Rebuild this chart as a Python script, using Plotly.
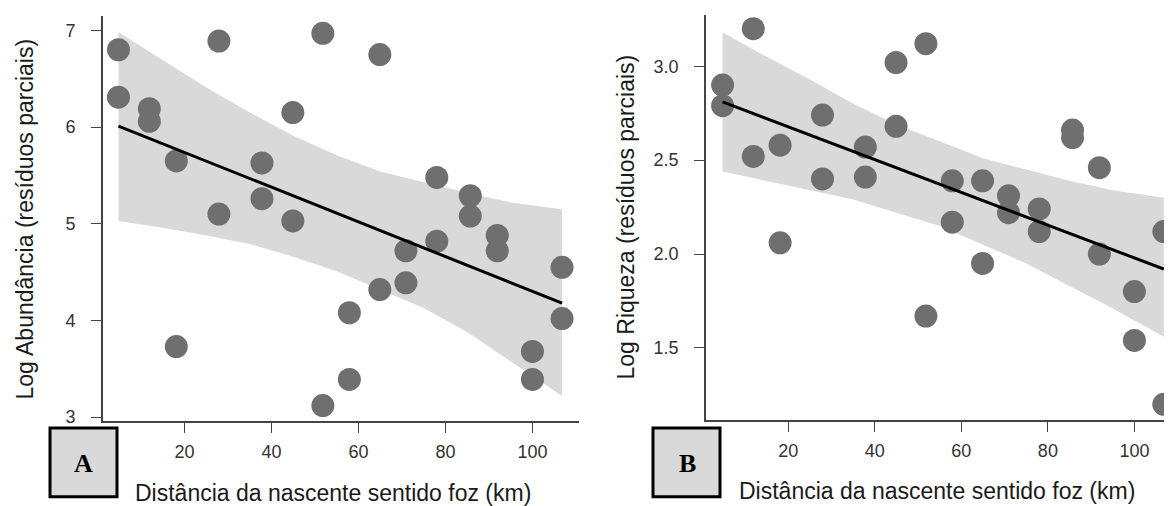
import plotly.graph_objects as go

W, H = 1172, 506

# ---- data ----
sites = [4.8, 11.9, 18.1, 27.9, 37.8, 44.9, 51.8, 57.9, 64.9, 70.9, 78.0, 85.7, 91.9, 100.0, 106.8]
dist = [x for x in sites for _ in range(2)]

log_abund = [6.80, 6.31, 6.19, 6.06, 5.65, 3.73, 6.89, 5.10, 5.63, 5.26,
             6.15, 5.03, 6.97, 3.12, 4.08, 3.39, 6.75, 4.32, 4.72, 4.39,
             5.48, 4.82, 5.29, 5.08, 4.88, 4.72, 3.68, 3.39, 4.55, 4.02]

log_riq = [2.90, 2.79, 3.20, 2.52, 2.58, 2.06, 2.74, 2.40, 2.57, 2.41,
           3.02, 2.68, 3.12, 1.67, 2.39, 2.17, 2.39, 1.95, 2.31, 2.22,
           2.24, 2.12, 2.66, 2.62, 2.46, 2.00, 1.80, 1.54, 2.12, 1.20]

fit_x = [4.8, 106.8]
fit_abund = [6.01, 4.18]
fit_riq = [2.81, 1.92]

band_x = [4.8, 15, 25, 35, 45, 55, 65, 75, 85, 95, 106.8]
abund_upper = [6.98, 6.69, 6.41, 6.15, 5.91, 5.71, 5.54, 5.43, 5.32, 5.22, 5.15]
abund_lower = [5.03, 4.96, 4.88, 4.79, 4.66, 4.51, 4.32, 4.13, 3.88, 3.58, 3.22]
riq_upper = [3.18, 3.05, 2.93, 2.80, 2.69, 2.60, 2.51, 2.45, 2.39, 2.34, 2.30]
riq_lower = [2.44, 2.39, 2.34, 2.29, 2.22, 2.15, 2.05, 1.95, 1.83, 1.71, 1.56]

x_ticks = [20, 40, 60, 80, 100]
abund_ticks = [3, 4, 5, 6, 7]
riq_ticks = [1.5, 2.0, 2.5, 3.0]

x_title = "Distância da nascente sentido foz (km)"
ya_title = "Log Abundância (resíduos parciais)"
yb_title = "Log Riqueza (resíduos parciais)"

BAND = "#d9d9d9"
PT = "#6f6f6f"
AX = "#444444"
TICKFONT = dict(family="Liberation Sans, Arial, sans-serif", size=18, color="#333333")
TITLEFONT = dict(family="Liberation Sans, Arial, sans-serif", size=23, color="#1a1a1a")
LETTERFONT = dict(family="Liberation Serif, Times New Roman, serif", size=26, color="black")


def px(x):
    return x / W


def py(y):
    return 1 - y / H


fig = go.Figure()

for xa, ya, yv, up, lo, fit in [("x", "y", log_abund, abund_upper, abund_lower, fit_abund),
                                ("x2", "y2", log_riq, riq_upper, riq_lower, fit_riq)]:
    fig.add_trace(go.Scatter(x=band_x + band_x[::-1], y=up + lo[::-1], fill="toself",
                             fillcolor=BAND, line=dict(width=0), mode="lines",
                             hoverinfo="skip", xaxis=xa, yaxis=ya, showlegend=False))
    fig.add_trace(go.Scatter(x=dist, y=yv, mode="markers", cliponaxis=False,
                             marker=dict(size=23, color=PT, line=dict(width=0)),
                             xaxis=xa, yaxis=ya, showlegend=False))
    fig.add_trace(go.Scatter(x=fit_x, y=fit, mode="lines", line=dict(color="black", width=3),
                             xaxis=xa, yaxis=ya, showlegend=False))

common_x = dict(tickvals=x_ticks, ticks="outside", ticklen=10, tickwidth=1.3, tickcolor=AX,
                showline=True, linecolor=AX, linewidth=1.5, showgrid=False, zeroline=False,
                tickfont=TICKFONT, ticklabelstandoff=4)
common_y = dict(ticks="outside", ticklen=10, tickwidth=1.3, tickcolor=AX,
                showline=True, linecolor=AX, linewidth=1.5, showgrid=False, zeroline=False,
                tickfont=TICKFONT, ticklabelstandoff=12)

fig.update_layout(
    width=W, height=H, margin=dict(l=0, r=0, t=0, b=0),
    paper_bgcolor="white", plot_bgcolor="white",
    xaxis=dict(domain=[px(94.8), px(571)], range=[1.2, 110.7], anchor="y", **common_x),
    yaxis=dict(domain=[py(418), py(8.3)], range=[2.96, 7.147], anchor="x",
               tickvals=abund_ticks, **common_y),
    xaxis2=dict(domain=[px(697.8), 1.0], range=[0.92, 110.54], anchor="y2", **common_x),
    yaxis2=dict(domain=[py(417), py(6.7)], range=[1.116, 3.275], anchor="x2",
                tickvals=riq_ticks, tickformat=".1f", **common_y),
)

annotations = [
    dict(text=x_title, x=px(325), y=py(491), font=TITLEFONT),
    dict(text=x_title, x=px(929), y=py(489), font=TITLEFONT),
    dict(text=ya_title, x=px(17), y=py(214), textangle=-90, font=TITLEFONT),
    dict(text=yb_title, x=px(618), y=py(212), textangle=-90, font=TITLEFONT),
    dict(text="<b>A</b>", x=px(76), y=py(461), font=LETTERFONT),
    dict(text="<b>B</b>", x=px(679), y=py(461), font=LETTERFONT),
]
for a in annotations:
    a.update(xref="paper", yref="paper", showarrow=False, xanchor="center", yanchor="middle")
fig.update_layout(annotations=annotations)

for x0, x1 in [(42, 109), (645, 712)]:
    fig.add_shape(type="rect", xref="paper", yref="paper",
                  x0=px(x0), x1=px(x1), y0=py(494.5), y1=py(425),
                  fillcolor="#d9d9d9", line=dict(color="black", width=3))

fig.write_html("out.html")
